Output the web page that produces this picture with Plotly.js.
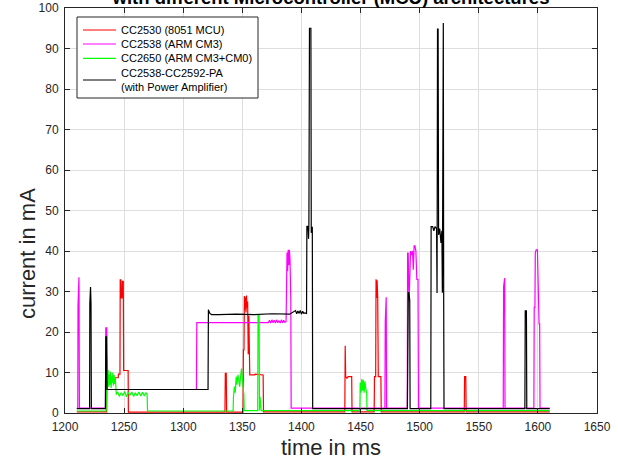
<!DOCTYPE html>
<html>
<head>
<meta charset="utf-8">
<script src="https://cdn.plot.ly/plotly-3.0.1.min.js"></script>
<style>html,body{margin:0;padding:0;background:#fff;}#chart{width:618px;height:460px;}</style>
</head>
<body>
<div id="chart"></div>
<script>
// ---- Series names ----
const seriesNames = ['CC2530 (8051 MCU)', 'CC2538 (ARM CM3)', 'CC2650 (ARM CM3+CM0)', 'CC2538-CC2592-PA<br>(with Power Amplifier)'];

// ---- CC2530 (8051 MCU), red ----
const tRed = [1210, 1235.3, 1235.5, 1245, 1245.2, 1246.5, 1246.7, 1247.3, 1247.6, 1248.3, 1248.6, 1249.3, 1249.6, 1253.4, 1253.6,
  1335.3, 1335.6, 1336.4, 1336.7,
  1350.6, 1350.9, 1351.4, 1351.7, 1352.2, 1352.6, 1353.1, 1353.5, 1354.0, 1354.5, 1355.0, 1355.5, 1356.0, 1356.3, 1360.5, 1360.8, 1367.6, 1367.9,
  1436.7, 1437.0, 1437.4, 1438.5, 1439.5, 1442.5, 1442.8,
  1461.5, 1461.8, 1462.8, 1463.1, 1463.6, 1464.0, 1464.5, 1465.0, 1465.3, 1467.2, 1467.5,
  1537.7, 1538.0, 1539.0, 1539.3, 1610];
const iRed = [0.3, 0.3, 8.7, 8.7, 9.6, 9.6, 32.9, 32.9, 28.4, 28.4, 32.5, 32.5, 10.5, 10.5, 0.2,
  0.2, 9.8, 9.8, 0.2,
  0.2, 15.6, 15.6, 28.9, 25.5, 28.6, 24.8, 29.0, 26.0, 27.5, 14.5, 24.0, 14.3, 9.4, 9.4, 9.6, 9.4, 0.3,
  0.3, 16.6, 9.0, 8.6, 9.0, 9.0, 0.3,
  0.3, 9.0, 9.0, 33.0, 28.4, 32.8, 28.6, 9.0, 9.0, 9.0, 0.3,
  0.3, 9.0, 9.0, 0.3, 0.3];

// ---- CC2538 (ARM CM3), magenta ----
const tMag = [1210, 1210.8, 1211.0, 1211.5, 1211.8, 1212.2, 1234.2, 1234.5, 1235.3, 1235.6,
  1311.2, 1311.5, 1372.0, 1373.0, 1374.0, 1375.0, 1376.0, 1377.0, 1378.0, 1379.0, 1380.0, 1381.0, 1382.0, 1383.0, 1384.0, 1385.0, 1386.0, 1387.0,
  1387.3, 1387.8, 1388.3, 1388.8, 1389.3, 1389.8, 1390.3, 1390.7, 1391.0, 1391.3,
  1470.6, 1470.9, 1471.3, 1471.7, 1472.0,
  1489.5, 1489.8, 1490.3, 1491.0, 1491.7, 1492.3, 1493.0, 1494.0, 1494.6, 1495.3, 1496.0, 1496.8, 1497.6, 1498.6, 1499.0,
  1570.7, 1571.0, 1571.4, 1571.9, 1572.2,
  1596.6, 1596.9, 1597.5, 1597.8, 1598.5, 1599.6, 1600.2, 1600.6, 1601.0, 1601.5, 1601.8, 1610];
const iMag = [1.2, 1.2, 26.5, 33.5, 33.5, 1.2, 1.2, 21.0, 21.0, 5.8,
  5.8, 22.3, 22.3, 22.9, 22.2, 23.0, 22.3, 22.9, 22.2, 23.0, 22.3, 22.8, 22.2, 23.0, 22.3, 22.9, 22.4, 22.6,
  38.5, 39.6, 35.0, 40.3, 36.5, 40.3, 38.0, 28.0, 28.0, 1.2,
  1.2, 22.6, 28.6, 28.6, 1.2,
  1.2, 39.5, 39.5, 27.5, 38.0, 40.0, 39.0, 40.0, 35.4, 41.3, 41.3, 40.0, 33.0, 33.0, 1.2,
  1.2, 31.2, 33.3, 33.3, 1.2,
  1.2, 26.1, 26.1, 39.5, 40.3, 40.3, 27.5, 27.5, 22.0, 22.0, 1.2, 1.2];

// ---- CC2650 (ARM CM3+CM0), green ----
const tGrn = [1210, 1234.8, 1235.1, 1235.5, 1236.0, 1236.5, 1237.0, 1237.5, 1238.0, 1238.5, 1239.0, 1239.5, 1240.0, 1240.5, 1241.0, 1241.5, 1242.0, 1242.5, 1243.0,
  1243.4, 1244.5, 1246.0, 1247.5, 1249.0, 1250.5, 1252.0, 1253.5, 1255.0, 1256.5, 1258.0, 1259.5, 1261.0, 1262.5, 1264.0, 1265.5, 1267.0, 1268.5, 1269.5, 1269.8,
  1342.2, 1342.5, 1343.3, 1344.0, 1344.8, 1345.5, 1346.3, 1347.0, 1347.8, 1348.5, 1349.3, 1350.0, 1350.6, 1351.3, 1351.6,
  1363.0, 1363.3, 1364.2, 1364.5, 1365.0, 1365.5, 1366.0,
  1449.4, 1449.7, 1450.4, 1451.0, 1451.7, 1452.3, 1453.0, 1453.7, 1454.4, 1455.2, 1455.5, 1610];
const iGrn = [0.5, 0.5, 10.0, 14.0, 8.0, 10.6, 6.5, 9.5, 7.0, 10.2, 6.2, 9.0, 7.5, 10.0, 6.8, 9.4, 7.2, 8.8, 6.5,
  4.6, 5.2, 4.1, 5.0, 4.3, 5.3, 4.0, 5.1, 4.4, 5.2, 4.1, 5.0, 4.3, 5.2, 4.2, 5.1, 4.3, 5.0, 4.6, 0.5,
  0.5, 4.0, 6.5, 5.0, 9.0, 7.0, 9.4, 8.0, 6.5, 9.0, 11.0, 8.5, 6.0, 4.5, 0.6,
  0.6, 24.2, 24.2, 0.6, 4.0, 2.0, 0.6,
  0.6, 7.5, 5.0, 8.4, 5.5, 8.2, 5.0, 7.8, 6.0, 5.0, 0.6, 0.6];

// ---- CC2538-CC2592-PA (with Power Amplifier), black ----
const tBlk = [1210, 1220.8, 1221.0, 1221.3, 1221.6, 1222.0, 1222.3, 1234.2, 1234.5, 1235.2, 1235.5,
  1321.0, 1321.3, 1322.5, 1324.0, 1330.0, 1345.0, 1360.0, 1375.0, 1390.0, 1395.0, 1396.0, 1397.0, 1398.0, 1399.0, 1400.0, 1401.0, 1402.0, 1403.0, 1404.3,
  1404.6, 1405.5, 1406.0, 1406.3, 1406.8, 1408.0, 1408.3, 1409.2, 1409.5,
  1489.6, 1489.9, 1490.4, 1490.8, 1491.6, 1491.9,
  1509.4, 1509.7, 1511.0, 1512.0, 1513.0, 1514.3, 1514.7, 1515.1, 1515.6, 1516.0, 1517.0, 1518.0, 1518.8, 1519.2, 1519.5, 1520.0, 1520.3, 1520.6,
  1589.0, 1589.3, 1590.3, 1590.6, 1610];
const iBlk = [1.1, 1.1, 27.0, 31.1, 31.1, 27.0, 1.1, 1.1, 18.8, 18.8, 5.8,
  5.8, 25.5, 24.6, 24.3, 24.3, 24.4, 24.3, 24.5, 24.4, 25.3, 24.5, 25.2, 24.6, 25.3, 24.4, 25.1, 24.6, 24.7, 24.6,
  46.2, 46.0, 43.0, 46.5, 95.0, 95.0, 44.5, 46.0, 1.1,
  1.1, 27.9, 29.7, 29.7, 27.9, 1.1,
  1.1, 46.0, 46.0, 45.0, 46.0, 45.5, 29.6, 94.8, 94.8, 44.0, 45.5, 42.0, 45.0, 29.7, 96.3, 96.3, 30.0, 1.1,
  1.1, 25.2, 25.2, 1.1, 1.1];

const colors = ['#ff0000', '#ff00ff', '#00ff00', '#000000'];
const xs = [tRed, tMag, tGrn, tBlk];
const ys = [iRed, iMag, iGrn, iBlk];

const traces = xs.map((x, k) => ({
  type: 'scatter', mode: 'lines', x: x, y: ys[k], name: seriesNames[k],
  line: {color: colors[k], width: 1.2}, showlegend: false, hoverinfo: 'skip'
}));

// ---- plot geometry (pixels) ----
const W = 618, H = 460, mL = 65, mR = 21, mT = 8, mB = 47;
const pw = W - mL - mR, ph = H - mT - mB;
const px2x = p => (p - mL) / pw;
const py2y = p => (H - mB - p) / ph;
const FONT = 'Arial, "Liberation Sans", sans-serif';

// ---- manual legend (MATLAB style) ----
const box = {x0: 77, x1: 258, y0: 17, y1: 98};
const rowY = [30, 44, 58.3, 80];
const shapes = [{type: 'rect', xref: 'paper', yref: 'paper', x0: px2x(box.x0), x1: px2x(box.x1), y0: py2y(box.y1), y1: py2y(box.y0),
  line: {color: '#262626', width: 1}, fillcolor: '#ffffff', layer: 'above'}];
const annotations = [];
seriesNames.forEach((n, k) => {
  shapes.push({type: 'line', xref: 'paper', yref: 'paper', x0: px2x(83), x1: px2x(116), y0: py2y(rowY[k]), y1: py2y(rowY[k]),
    line: {color: colors[k], width: 1.2}, layer: 'above'});
  annotations.push({xref: 'paper', yref: 'paper', x: px2x(119), y: py2y(rowY[k]), xanchor: 'left', yanchor: 'middle',
    text: n, showarrow: false, align: 'left', font: {family: FONT, size: 11, color: '#000'}});
});
// y-axis title (placed as in the reference)
annotations.push({xref: 'paper', yref: 'paper', x: px2x(27), y: py2y(254), xanchor: 'center', yanchor: 'middle',
  text: 'current in mA', textangle: -90, showarrow: false, font: {family: FONT, size: 22, color: '#262626'}});

const axisCommon = {
  showline: true, linecolor: '#262626', linewidth: 1, mirror: 'ticks',
  ticks: 'inside', ticklen: 5, tickcolor: '#262626', tickwidth: 1,
  showgrid: true, gridcolor: '#dedede', gridwidth: 1, zeroline: false,
  tickfont: {family: FONT, size: 12, color: '#262626'}
};

const layout = {
  width: W, height: H,
  margin: {l: mL, r: mR, t: mT, b: mB, pad: 0},
  paper_bgcolor: '#ffffff', plot_bgcolor: '#ffffff',
  title: {text: '<b>with different Microcontroller (MCU) architectures</b>', xref: 'paper', x: 0.5, xanchor: 'center',
    yref: 'container', y: 1 - 4 / H, yanchor: 'bottom',
    font: {family: FONT, size: 18.5, color: '#000'}},
  xaxis: Object.assign({}, axisCommon, {range: [1200, 1650], dtick: 50, tick0: 1200, ticklabelstandoff: 3,
    title: {text: 'time in ms', standoff: 9, font: {family: FONT, size: 22, color: '#262626'}}}),
  yaxis: Object.assign({}, axisCommon, {range: [0, 100], dtick: 10, tick0: 0, ticklabelstandoff: 3}),
  shapes: shapes, annotations: annotations
};

Plotly.newPlot('chart', traces, layout, {displayModeBar: false, staticPlot: true});
</script>
</body>
</html>
